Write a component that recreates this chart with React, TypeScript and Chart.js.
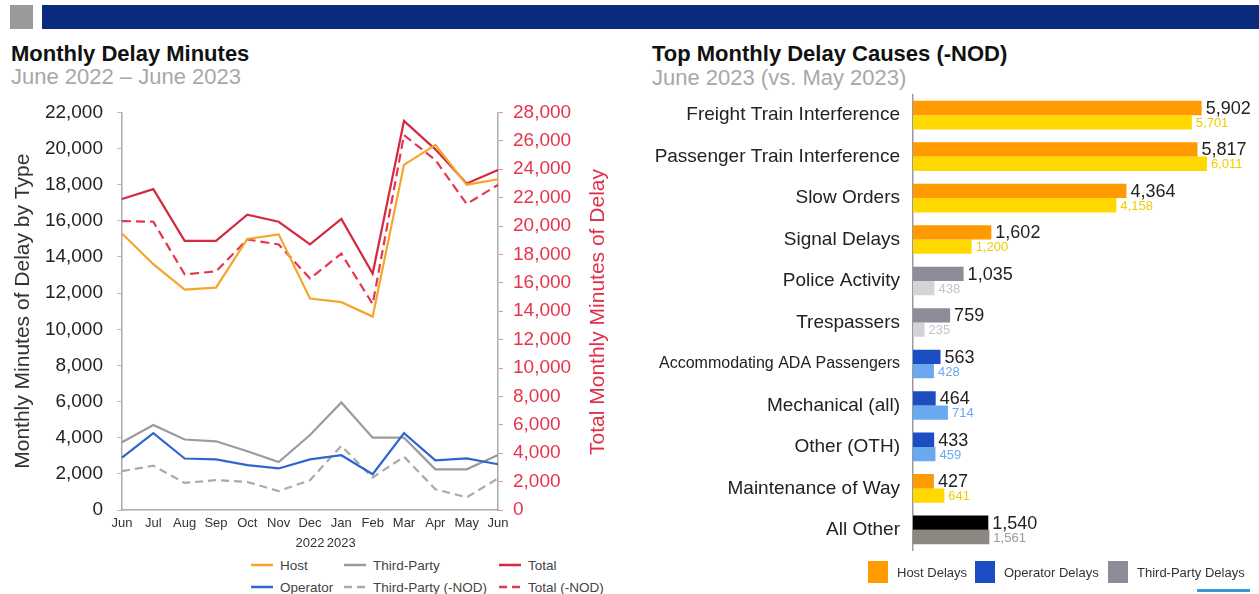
import React, { useEffect, useRef } from "react";
import { Chart, registerables } from "chart.js";
Chart.register(...registerables);

const FONT = "'Liberation Sans', Arial, Helvetica, sans-serif";
Chart.defaults.font.family = FONT;

// ---------- Left chart data ----------
const months = ["Jun", "Jul", "Aug", "Sep", "Oct", "Nov", "Dec", "Jan", "Feb", "Mar", "Apr", "May", "Jun"];
const monthYears = ["", "", "", "", "", "", "2022", "2023", "", "", "", "", ""];
const hostDelay = [15300, 13600, 12200, 12300, 15000, 15250, 11700, 11500, 10700, 19100, 20200, 18000, 18300];
const operatorDelay = [2900, 4250, 2850, 2800, 2480, 2300, 2800, 3030, 1980, 4250, 2750, 2860, 2530];
const thirdPartyDelay = [3750, 4700, 3900, 3800, 3250, 2650, 4150, 5950, 4000, 4000, 2250, 2250, 3050];
const thirdPartyNod = [2150, 2450, 1500, 1650, 1550, 1050, 1650, 3550, 1800, 2950, 1150, 700, 1750];
const totalDelay = [21900, 22600, 18950, 18950, 20800, 20300, 18700, 20500, 16650, 27400, 25400, 23000, 23950];
const totalNod = [20350, 20300, 16600, 16800, 19050, 18700, 16300, 18050, 14500, 26400, 24650, 21550, 22900];
const leftTicksMax = 22000;
const rightTicksMax = 28000;
const tickStep = 2000;

// ---------- Right chart data ----------
const causes = [
  "Freight Train Interference",
  "Passenger Train Interference",
  "Slow Orders",
  "Signal Delays",
  "Police Activity",
  "Trespassers",
  "Accommodating ADA Passengers",
  "Mechanical (all)",
  "Other (OTH)",
  "Maintenance of Way",
  "All Other",
];
const june2023 = [5902, 5817, 4364, 1602, 1035, 759, 563, 464, 433, 427, 1540];
const may2023 = [5701, 6011, 4158, 1200, 438, 235, 428, 714, 459, 641, 1561];
const causeGroup = ["host", "host", "host", "host", "third", "third", "operator", "operator", "operator", "host", "all"];

const currentColors: Record<string, string> = { host: "#FF9A00", operator: "#1A4EC2", third: "#8D8D99", all: "#000000" };
const previousColors: Record<string, string> = { host: "#FFD800", operator: "#6AA8F0", third: "#D4D4D8", all: "#8A8880" };
const prevLabelColors: Record<string, string> = { host: "#F2CC00", operator: "#6AA8F0", third: "#C4C4C8", all: "#9A9A94" };

const fmt = (v: number) => Number(v).toLocaleString("en-US");

const valueLabelPlugin = {
  id: "valueLabels",
  afterDatasetsDraw(chart: any) {
    const ctx = chart.ctx;
    ctx.save();
    ctx.textBaseline = "middle";
    ctx.textAlign = "left";
    [1, 0].forEach((di) => {
      const ds = chart.data.datasets[di];
      const meta = chart.getDatasetMeta(di);
      meta.data.forEach((bar: any, i: number) => {
        const txt = fmt(ds.data[i]);
        if (di === 0) {
          ctx.font = `18px ${FONT}`;
          ctx.fillStyle = "#222";
        } else {
          ctx.font = `13px ${FONT}`;
          ctx.fillStyle = prevLabelColors[causeGroup[i]];
        }
        ctx.fillText(txt, bar.x + 4, bar.y + 1);
      });
    });
    ctx.restore();
  },
};

const leftLegend = [
  { label: "Host", color: "#F4A62A", dash: "", x: 251, y: 565 },
  { label: "Third-Party", color: "#9B9B9B", dash: "", x: 344, y: 565 },
  { label: "Total", color: "#D42A3F", dash: "", x: 499, y: 565 },
  { label: "Operator", color: "#2E66CC", dash: "", x: 251, y: 587 },
  { label: "Third-Party (-NOD)", color: "#AAAAAA", dash: "8 5", x: 344, y: 587 },
  { label: "Total (-NOD)", color: "#E8354E", dash: "8 5", x: 499, y: 587 },
];

const rightLegend = [
  { label: "Host Delays", group: "host", x: 868 },
  { label: "Operator Delays", group: "operator", x: 975 },
  { label: "Third-Party Delays", group: "third", x: 1108 },
];

export default function App() {
  const lineRef = useRef<HTMLCanvasElement>(null);
  const barRef = useRef<HTMLCanvasElement>(null);

  useEffect(() => {
    const line = new Chart(lineRef.current as HTMLCanvasElement, {
      type: "line",
      data: {
        labels: months.map((m, i) => (monthYears[i] ? [m, monthYears[i]] : m)),
        datasets: [
          { label: "Host", data: hostDelay, borderColor: "#F4A62A", yAxisID: "y" },
          { label: "Operator", data: operatorDelay, borderColor: "#2E66CC", yAxisID: "y" },
          { label: "Third-Party", data: thirdPartyDelay, borderColor: "#9B9B9B", yAxisID: "y" },
          { label: "Third-Party (-NOD)", data: thirdPartyNod, borderColor: "#AAAAAA", borderDash: [8, 5], yAxisID: "y" },
          { label: "Total", data: totalDelay, borderColor: "#D42A3F", yAxisID: "y2" },
          { label: "Total (-NOD)", data: totalNod, borderColor: "#E8354E", borderDash: [9, 5], yAxisID: "y2" },
        ],
      },
      options: {
        responsive: false,
        animation: false,
        devicePixelRatio: 1,
        layout: { padding: 0 },
        plugins: { legend: { display: false }, tooltip: { enabled: false } },
        elements: { point: { radius: 0 }, line: { tension: 0, borderWidth: 2.2 } },
        scales: {
          x: {
            grid: { display: false, drawTicks: false },
            border: { color: "#AAAAAA", width: 1.5 },
            ticks: { color: "#333", padding: 4, maxRotation: 0, autoSkip: false, font: { size: 13, lineHeight: 1.5 } },
            afterFit: (s: any) => { s.height = 45; },
          },
          y: {
            position: "left",
            min: 0,
            max: leftTicksMax,
            border: { color: "#AAAAAA", width: 1.5 },
            grid: { drawOnChartArea: false, drawTicks: true, tickLength: 5, color: "#BBBBBB" },
            ticks: { stepSize: tickStep, color: "#222", padding: 14, font: { size: 19 }, callback: (v: any) => fmt(v) },
            title: { display: true, text: "Monthly Minutes of Delay by Type", color: "#333", font: { size: 21 }, padding: { top: 11, bottom: 0 } },
            afterFit: (s: any) => { s.width = 122; },
          },
          y2: {
            position: "right",
            min: 0,
            max: rightTicksMax,
            border: { color: "#AAAAAA", width: 1.5 },
            grid: { drawOnChartArea: false, drawTicks: true, tickLength: 5, color: "#F28A98" },
            ticks: { stepSize: tickStep, color: "#E8334A", padding: 10, font: { size: 19 }, callback: (v: any) => fmt(v) },
            afterFit: (s: any) => { s.width = 142; },
          },
        },
      },
    } as any);

    const bar = new Chart(barRef.current as HTMLCanvasElement, {
      type: "bar",
      data: {
        labels: causes,
        datasets: [
          {
            label: "June 2023",
            data: june2023,
            backgroundColor: causeGroup.map((g) => currentColors[g]),
            categoryPercentage: 0.69,
            barPercentage: 1.0,
            borderWidth: 0,
          },
          {
            label: "May 2023",
            data: may2023,
            backgroundColor: causeGroup.map((g) => previousColors[g]),
            categoryPercentage: 0.69,
            barPercentage: 1.0,
            borderWidth: 0,
          },
        ],
      },
      options: {
        indexAxis: "y",
        responsive: false,
        animation: false,
        devicePixelRatio: 1,
        layout: { padding: 0 },
        plugins: { legend: { display: false }, tooltip: { enabled: false } },
        scales: {
          x: { display: false, min: 0, max: 7075 },
          y: {
            grid: { display: false, drawTicks: false },
            border: { display: true, color: "#9A9A9A", width: 1.5 },
            ticks: {
              color: "#222",
              padding: 13,
              autoSkip: false,
              font: (c: any) => ({ family: FONT, size: c.index === 6 ? 16 : 19 }),
            },
            afterFit: (s: any) => { s.width = 273; },
          },
        },
      },
      plugins: [valueLabelPlugin],
    } as any);

    return () => {
      line.destroy();
      bar.destroy();
    };
  }, []);

  const abs = (o: React.CSSProperties): React.CSSProperties => ({ position: "absolute", ...o });

  return (
    <div style={abs({ left: 0, top: 0, width: 1259, height: 594, overflow: "hidden", background: "#fff", fontFamily: FONT })}>
      {/* header */}
      <div style={abs({ left: 10, top: 5, width: 23, height: 24, background: "#9A9A9A" })} />
      <div style={abs({ left: 42, top: 5, width: 1217, height: 24, background: "#0A2A7C" })} />

      {/* titles */}
      <div style={abs({ left: 11, top: 43, fontSize: 22, lineHeight: "22px", fontWeight: "bold", color: "#111", whiteSpace: "nowrap" })}>Monthly Delay Minutes</div>
      <div style={abs({ left: 11, top: 66, fontSize: 22, lineHeight: "22px", color: "#A8A8A8", whiteSpace: "nowrap" })}>June 2022 – June 2023</div>
      <div style={abs({ left: 652, top: 43, fontSize: 22, lineHeight: "22px", fontWeight: "bold", color: "#111", whiteSpace: "nowrap" })}>Top Monthly Delay Causes (-NOD)</div>
      <div style={abs({ left: 652, top: 67, fontSize: 22, lineHeight: "22px", color: "#A8A8A8", whiteSpace: "nowrap" })}>June 2023 (vs. May 2023)</div>

      {/* left chart */}
      <canvas ref={lineRef} width={640} height={468} style={abs({ left: 0, top: 87, width: 640, height: 468 })} />
      <div
        style={abs({
          left: 597 - 200,
          top: 312 - 13,
          width: 400,
          height: 26,
          lineHeight: "26px",
          textAlign: "center",
          fontSize: 21,
          color: "#E0304A",
          transform: "rotate(-90deg)",
          whiteSpace: "nowrap",
        })}
      >
        Total Monthly Minutes of Delay
      </div>

      {/* left legend */}
      {leftLegend.map((l) => (
        <div key={l.label} style={abs({ left: l.x, top: l.y - 10, height: 20, display: "flex", alignItems: "center", whiteSpace: "nowrap" })}>
          <svg width={22} height={6} style={{ display: "block" }}>
            <line x1={0} y1={3} x2={22} y2={3} stroke={l.color} strokeWidth={2.5} strokeDasharray={l.dash || undefined} />
          </svg>
          <span style={{ marginLeft: 7, fontSize: 13.5, color: "#444" }}>{l.label}</span>
        </div>
      ))}

      {/* right chart */}
      <canvas ref={barRef} width={619} height={505} style={abs({ left: 640, top: 70, width: 619, height: 505 })} />

      {/* right legend */}
      {rightLegend.map((l) => (
        <div key={l.label} style={abs({ left: l.x, top: 561, height: 22, display: "flex", alignItems: "center", whiteSpace: "nowrap" })}>
          <div style={{ width: 20, height: 22, background: currentColors[l.group] }} />
          <span style={{ marginLeft: 9, fontSize: 13, color: "#333" }}>{l.label}</span>
        </div>
      ))}

      <div style={abs({ left: 1197, top: 589, width: 53, height: 3, background: "#3A9AD0" })} />
    </div>
  );
}
